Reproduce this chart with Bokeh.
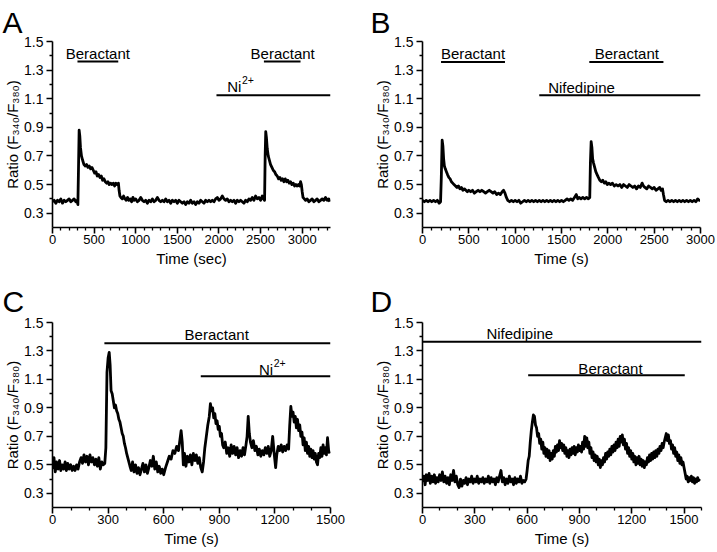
from bokeh.plotting import figure
from bokeh.models import Range1d, FixedTicker, PrintfTickFormatter, Label
from bokeh.layouts import column, row
from bokeh.embed import file_html
from bokeh.resources import INLINE

FONT = "Liberation Sans"

# ---------------- data ----------------
# Panel A: time (sec), ratio
a_points = [
    (0, .38), (20, .39), (40, .37), (60, .39), (80, .38), (100, .40), (120, .37), (140, .39),
    (160, .38), (180, .39), (200, .40), (220, .38), (240, .39), (260, .40), (280, .38), (295, .39),
    (305, .36), (312, .60), (320, .88), (328, .84), (336, .76), (348, .70), (362, .67), (378, .64),
    (394, .63), (410, .64), (426, .62), (442, .63), (458, .61), (474, .62), (490, .60), (506, .58),
    (522, .59), (538, .56), (554, .57), (570, .55), (586, .56), (602, .53), (618, .54), (634, .52),
    (650, .51), (666, .52), (682, .50), (698, .51), (714, .50), (730, .51), (746, .49), (762, .51),
    (778, .50), (792, .51), (800, .46), (810, .42), (822, .41), (838, .40), (854, .42), (870, .40),
    (886, .39), (902, .41), (918, .39), (934, .40), (950, .38), (966, .41), (982, .39), (1000, .40),
    (1020, .38), (1040, .39), (1060, .41), (1080, .39), (1100, .38), (1120, .39), (1140, .37),
    (1160, .39), (1180, .38), (1200, .40), (1220, .38), (1240, .39), (1260, .41), (1280, .39),
    (1300, .38), (1320, .39), (1340, .38), (1360, .40), (1380, .38), (1400, .39), (1420, .37),
    (1440, .39), (1460, .38), (1480, .39), (1500, .37), (1520, .39), (1540, .38), (1560, .37),
    (1580, .38), (1600, .36), (1620, .38), (1640, .37), (1660, .39), (1680, .37), (1700, .38),
    (1720, .36), (1740, .38), (1760, .37), (1780, .39), (1800, .38), (1820, .37), (1840, .39),
    (1860, .38), (1880, .39), (1900, .38), (1920, .39), (1940, .38), (1960, .40), (1980, .41),
    (2000, .39), (2020, .40), (2040, .42), (2060, .40), (2080, .39), (2100, .40), (2120, .38),
    (2140, .39), (2160, .38), (2180, .39), (2200, .37), (2220, .39), (2240, .38), (2260, .39),
    (2280, .38), (2300, .37), (2320, .39), (2340, .38), (2360, .40), (2380, .39), (2400, .41),
    (2420, .39), (2440, .42), (2460, .40), (2480, .41), (2500, .39), (2520, .42), (2535, .40),
    (2548, .39), (2555, .70), (2562, .87), (2570, .83), (2580, .75), (2592, .70), (2606, .67),
    (2620, .64), (2636, .62), (2652, .60), (2668, .59), (2684, .57), (2700, .56), (2716, .54),
    (2732, .55), (2748, .53), (2764, .54), (2780, .52), (2796, .54), (2812, .52), (2828, .53),
    (2844, .51), (2860, .52), (2876, .50), (2892, .51), (2908, .49), (2924, .50), (2940, .49),
    (2956, .50), (2970, .49), (2980, .52), (2990, .50), (3000, .45), (3010, .41), (3025, .40),
    (3040, .39), (3060, .40), (3080, .38), (3100, .39), (3120, .40), (3140, .38), (3160, .39),
    (3180, .40), (3200, .38), (3220, .39), (3240, .40), (3260, .39), (3280, .41), (3300, .39),
    (3320, .40), (3330, .38),
]
# Panel B: time (s), ratio
b_points = [
    (0, .39), (20, .38), (40, .39), (60, .38), (80, .39), (100, .38), (120, .39), (140, .38),
    (160, .39), (180, .37), (195, .38), (203, .55), (212, .81), (220, .77), (228, .68), (236, .63),
    (246, .61), (258, .59), (270, .57), (284, .55), (298, .54), (312, .52), (326, .51), (340, .50),
    (356, .49), (372, .48), (388, .49), (404, .47), (420, .48), (436, .46), (452, .47), (468, .46),
    (484, .45), (500, .46), (520, .45), (540, .46), (560, .44), (580, .45), (600, .46), (620, .45),
    (640, .46), (660, .45), (680, .44), (700, .45), (720, .46), (740, .45), (760, .44), (780, .45),
    (800, .43), (820, .44), (840, .43), (860, .45), (875, .46), (890, .44), (905, .41), (920, .39),
    (940, .38), (960, .39), (980, .38), (1000, .39), (1020, .38), (1040, .39), (1060, .37),
    (1080, .38), (1100, .39), (1120, .38), (1140, .39), (1160, .38), (1180, .39), (1200, .38),
    (1220, .39), (1240, .38), (1260, .39), (1280, .38), (1300, .39), (1320, .38), (1340, .39),
    (1360, .38), (1380, .39), (1400, .38), (1420, .39), (1440, .38), (1460, .39), (1480, .38),
    (1500, .39), (1520, .38), (1540, .39), (1560, .40), (1580, .39), (1600, .40), (1620, .39),
    (1640, .41), (1660, .43), (1675, .40), (1690, .41), (1710, .40), (1730, .41), (1750, .40),
    (1770, .41), (1790, .40), (1805, .41), (1812, .65), (1820, .80), (1828, .76), (1836, .68),
    (1846, .65), (1858, .62), (1870, .59), (1884, .57), (1898, .55), (1914, .53), (1930, .52),
    (1946, .53), (1962, .51), (1978, .52), (1994, .50), (2010, .51), (2030, .50), (2050, .51),
    (2070, .49), (2090, .50), (2110, .49), (2130, .50), (2150, .48), (2170, .50), (2190, .49),
    (2210, .48), (2230, .50), (2250, .49), (2270, .48), (2290, .49), (2310, .47), (2330, .49),
    (2350, .48), (2370, .51), (2385, .49), (2400, .48), (2420, .47), (2440, .49), (2460, .48),
    (2480, .47), (2500, .48), (2520, .46), (2540, .47), (2560, .48), (2575, .46), (2590, .47),
    (2600, .43), (2612, .39), (2630, .38), (2650, .39), (2670, .38), (2690, .39), (2710, .38),
    (2730, .39), (2750, .38), (2770, .39), (2790, .38), (2810, .39), (2830, .38), (2850, .39),
    (2870, .38), (2890, .39), (2910, .38), (2930, .39), (2950, .38), (2970, .40), (2985, .39),
    (2995, .39),
]
# Panel C: time (s), ratio
c_points = [
    (0, .47), (8, .55), (15, .45), (22, .52), (30, .47), (38, .53), (45, .46), (52, .50), (60, .47),
    (68, .52), (75, .46), (82, .51), (90, .47), (98, .50), (106, .46), (114, .49), (122, .46),
    (130, .50), (138, .47), (146, .52), (154, .55), (162, .51), (170, .57), (178, .52), (186, .56),
    (194, .50), (202, .57), (210, .52), (218, .55), (226, .50), (234, .54), (242, .49), (250, .55),
    (258, .47), (266, .52), (274, .50), (282, .51), (288, .62), (294, 1.15), (300, 1.25),
    (306, 1.29), (311, 1.20), (316, 1.02), (322, 1.00), (328, .95), (334, .90), (340, .92),
    (346, .88), (352, .86), (358, .82), (364, .80), (370, .76), (376, .72), (382, .70), (388, .65),
    (394, .62), (400, .58), (406, .55), (412, .52), (418, .49), (425, .46), (432, .52), (440, .45),
    (448, .50), (456, .44), (464, .48), (472, .43), (480, .47), (488, .51), (496, .45), (504, .50),
    (512, .44), (520, .48), (528, .53), (536, .49), (544, .56), (552, .47), (560, .52), (568, .45),
    (576, .49), (584, .44), (592, .47), (600, .43), (610, .48), (620, .52), (630, .56), (640, .54),
    (650, .60), (660, .58), (670, .63), (680, .60), (688, .68), (694, .74), (700, .66), (706, .50),
    (712, .58), (720, .49), (728, .56), (736, .52), (744, .57), (752, .50), (760, .58), (768, .53),
    (776, .57), (784, .51), (792, .55), (800, .48), (808, .45), (815, .52), (822, .62), (830, .70),
    (838, .78), (846, .84), (852, .93), (858, .88), (864, .90), (870, .83), (876, .86), (882, .79),
    (888, .81), (894, .75), (900, .77), (906, .70), (912, .72), (918, .64), (924, .62), (932, .66),
    (940, .58), (948, .62), (956, .56), (964, .64), (972, .58), (980, .63), (988, .57), (996, .62),
    (1004, .55), (1012, .60), (1020, .56), (1028, .62), (1036, .57), (1044, .64), (1050, .70),
    (1056, .84), (1062, .72), (1068, .66), (1076, .62), (1084, .67), (1092, .60), (1100, .63),
    (1108, .57), (1116, .61), (1124, .56), (1132, .60), (1140, .57), (1148, .62), (1156, .58),
    (1164, .63), (1172, .56), (1180, .60), (1188, .70), (1196, .58), (1204, .48), (1210, .57),
    (1218, .63), (1226, .60), (1234, .64), (1242, .59), (1250, .63), (1258, .60), (1266, .64),
    (1274, .61), (1280, .78), (1286, .91), (1292, .84), (1298, .87), (1304, .80), (1310, .84),
    (1316, .76), (1322, .82), (1328, .74), (1334, .78), (1340, .70), (1346, .73), (1352, .64),
    (1358, .69), (1364, .60), (1370, .66), (1376, .58), (1382, .63), (1388, .56), (1394, .61),
    (1400, .55), (1406, .60), (1412, .54), (1418, .58), (1424, .52), (1430, .50), (1436, .58),
    (1442, .55), (1448, .62), (1454, .56), (1460, .64), (1466, .58), (1472, .62), (1478, .57),
    (1484, .69), (1490, .60), (1496, .58),
]
# Panel D: time (s), ratio
d_points = [
    (0, .38), (8, .42), (15, .36), (22, .43), (30, .39), (38, .44), (45, .37), (52, .42), (60, .38),
    (68, .43), (75, .37), (82, .41), (90, .38), (98, .43), (106, .39), (114, .45), (122, .38),
    (130, .42), (138, .37), (146, .41), (154, .36), (162, .43), (170, .39), (178, .46), (186, .38),
    (194, .42), (202, .36), (210, .34), (218, .40), (226, .35), (234, .39), (242, .37), (250, .41),
    (258, .36), (266, .40), (274, .38), (282, .42), (290, .37), (298, .40), (306, .38), (314, .42),
    (322, .37), (330, .40), (338, .38), (346, .41), (354, .37), (362, .40), (370, .38), (378, .42),
    (386, .37), (394, .41), (402, .38), (410, .40), (418, .36), (426, .41), (434, .38), (442, .42),
    (450, .46), (458, .38), (466, .41), (474, .36), (482, .40), (490, .37), (498, .42), (506, .38),
    (514, .40), (522, .36), (530, .41), (538, .37), (546, .40), (554, .38), (562, .42), (570, .37),
    (578, .39), (586, .38), (594, .40), (600, .46), (606, .53), (612, .56), (618, .66), (624, .74),
    (630, .80), (636, .85), (642, .84), (648, .78), (654, .76), (660, .70), (666, .72), (672, .65),
    (678, .68), (684, .61), (690, .66), (696, .58), (702, .62), (708, .56), (714, .61), (720, .55),
    (726, .60), (732, .53), (738, .58), (744, .54), (750, .60), (756, .56), (762, .63), (768, .59),
    (774, .64), (780, .60), (786, .67), (792, .62), (798, .65), (804, .60), (810, .64), (816, .58),
    (822, .62), (828, .56), (834, .60), (840, .55), (846, .61), (852, .57), (858, .62), (864, .58),
    (870, .63), (876, .57), (882, .62), (888, .59), (894, .64), (900, .60), (906, .63), (912, .59),
    (918, .66), (924, .61), (930, .70), (936, .63), (942, .69), (948, .62), (954, .66), (960, .58),
    (966, .62), (972, .55), (978, .59), (984, .53), (990, .57), (996, .52), (1002, .56), (1008, .50),
    (1014, .54), (1020, .48), (1026, .53), (1032, .50), (1038, .55), (1044, .52), (1050, .58),
    (1056, .54), (1062, .59), (1068, .56), (1074, .61), (1080, .57), (1086, .63), (1092, .59),
    (1098, .64), (1104, .60), (1110, .66), (1116, .62), (1122, .68), (1128, .63), (1134, .70),
    (1140, .66), (1146, .71), (1152, .64), (1158, .68), (1164, .61), (1170, .65), (1176, .58),
    (1182, .62), (1188, .56), (1194, .60), (1200, .54), (1206, .58), (1212, .52), (1218, .56),
    (1224, .50), (1230, .55), (1236, .51), (1242, .56), (1248, .50), (1254, .54), (1260, .49),
    (1266, .53), (1272, .48), (1278, .52), (1284, .50), (1290, .55), (1296, .52), (1302, .57),
    (1308, .53), (1314, .58), (1320, .54), (1326, .59), (1332, .55), (1338, .60), (1344, .56),
    (1350, .61), (1356, .58), (1362, .63), (1368, .60), (1374, .65), (1380, .62), (1386, .66),
    (1392, .69), (1398, .72), (1404, .67), (1410, .71), (1416, .65), (1422, .67), (1428, .61),
    (1434, .64), (1440, .58), (1446, .62), (1452, .56), (1458, .59), (1464, .53), (1470, .57),
    (1476, .51), (1482, .55), (1488, .50), (1494, .52), (1500, .48), (1506, .44), (1512, .40),
    (1518, .42), (1524, .38), (1530, .41), (1536, .39), (1542, .42), (1548, .38), (1554, .41),
    (1560, .37), (1566, .40), (1572, .38), (1578, .41), (1584, .39), (1590, .40),
]
a_time, a_ratio = [t for t, v in a_points], [v for t, v in a_points]
b_time, b_ratio = [t for t, v in b_points], [v for t, v in b_points]
c_time, c_ratio = [t for t, v in c_points], [v for t, v in c_points]
d_time, d_ratio = [t for t, v in d_points], [v for t, v in d_points]

# treatment bars: start, end, level
a_bar_start = [300, 2540, 1970]
a_bar_end = [790, 2980, 3340]
a_bar_y = [1.36, 1.36, 1.124]
b_bar_start = [200, 1800, 1260]
b_bar_end = [890, 2600, 3000]
b_bar_y = [1.357, 1.357, 1.124]
c_bar_start = [280, 800]
c_bar_end = [1500, 1500]
c_bar_y = [1.355, 1.122]
d_bar_start = [0, 606]
d_bar_end = [1600, 1504]
d_bar_y = [1.364, 1.13]

# axis ticks
y_major = [0.3, 0.5, 0.7, 0.9, 1.1, 1.3, 1.5]
y_minor = [0.4, 0.6, 0.8, 1.0, 1.2, 1.4]
a_xmajor = [0, 500, 1000, 1500, 2000, 2500, 3000]
b_xmajor = [0, 500, 1000, 1500, 2000, 2500, 3000]
c_xmajor = [0, 300, 600, 900, 1200, 1500]
d_xmajor = [0, 300, 600, 900, 1200, 1500]

YLABEL = "Ratio (F\u2083\u2084\u2080/F\u2083\u2088\u2080)"


def panel(width, height, bl, br, bt, bb, xmax, xmajor, xlabel, letter, loff, lstand):
    p = figure(width=width, height=height, output_backend="svg", toolbar_location=None,
               x_range=Range1d(0, xmax), y_range=Range1d(0.2, 1.5),
               min_border_left=bl, min_border_right=br, min_border_top=bt, min_border_bottom=bb)
    p.outline_line_color = None
    p.xgrid.visible = False
    p.ygrid.visible = False
    xminor = [m for m in range(100, xmax + 1, 100) if m not in xmajor]
    p.xaxis.ticker = FixedTicker(ticks=xmajor, minor_ticks=xminor)
    p.yaxis.ticker = FixedTicker(ticks=y_major, minor_ticks=y_minor)
    p.xaxis.formatter = PrintfTickFormatter(format="%d")
    p.yaxis.formatter = PrintfTickFormatter(format="%.1f")
    for ax in (p.xaxis[0], p.yaxis[0]):
        ax.axis_line_width = 1.6
        ax.axis_line_color = "black"
        ax.major_tick_line_width = 1.6
        ax.major_tick_line_color = "black"
        ax.minor_tick_line_width = 1.3
        ax.minor_tick_line_color = "black"
        ax.major_tick_in = 0
        ax.major_tick_out = 6
        ax.minor_tick_in = 0
        ax.minor_tick_out = 3
        ax.major_label_text_font = FONT
        ax.major_label_text_color = "black"
        ax.axis_label_text_font = FONT
        ax.axis_label_text_font_size = "15px"
        ax.axis_label_text_font_style = "normal"
        ax.axis_label_text_color = "black"
    p.xaxis.major_label_text_font_size = "13px"
    p.yaxis.major_label_text_font_size = "14px"
    p.xaxis.major_label_standoff = 1
    p.yaxis.major_label_standoff = 3
    p.xaxis.axis_label = xlabel
    p.xaxis.axis_label_standoff = 3
    p.yaxis.axis_label = YLABEL
    p.yaxis.axis_label_standoff = 0
    p.title.text = letter
    p.title.text_font = FONT
    p.title.text_font_size = "30px"
    p.title.text_font_style = "normal"
    p.title.text_color = "black"
    p.title.align = "left"
    p.title.offset = loff
    p.title.standoff = lstand
    return p


def txt(p, x, y, s, align="center", size=15, xo=0, yo=0):
    p.add_layout(Label(x=x, y=y, x_offset=xo, y_offset=yo, text=s, text_align=align,
                       text_baseline="alphabetic", text_font=FONT, text_font_size=f"{size}px",
                       text_color="black"))


def ni(p, x, y):
    txt(p, x, y, "Ni", align="left")
    txt(p, x, y, "2+", align="left", size=10.5, xo=14.7, yo=6.5)


# ---------------- Panel A ----------------
pa = panel(358, 276, 52, 28, 41, 49, 3340, a_xmajor, "Time (sec)", "A", -50, 5)
pa.line(a_time, a_ratio, line_width=2.8, color="black", line_join="round")
pa.segment(x0=a_bar_start, y0=a_bar_y, x1=a_bar_end, y1=a_bar_y, line_width=2, color="black")
txt(pa, 545, 1.416, "Beractant")
txt(pa, 2765, 1.416, "Beractant")
ni(pa, 2100, 1.182)

# ---------------- Panel B ----------------
pb = panel(358, 276, 64, 16, 41, 49, 3000, b_xmajor, "Time (s)", "B", -52, 5)
pb.line(b_time, b_ratio, line_width=2.8, color="black", line_join="round")
pb.segment(x0=b_bar_start, y0=b_bar_y, x1=b_bar_end, y1=b_bar_y, line_width=2, color="black")
txt(pb, 545, 1.416, "Beractant")
txt(pb, 2205, 1.416, "Beractant")
txt(pb, 1716, 1.177, "Nifedipine")

# ---------------- Panel C ----------------
pc = panel(358, 275, 52, 28, 46, 44, 1500, c_xmajor, "Time (s)", "C", -50, 10)
pc.line(c_time, c_ratio, line_width=2.8, color="black", line_join="round")
pc.segment(x0=c_bar_start, y0=c_bar_y, x1=c_bar_end, y1=c_bar_y, line_width=2, color="black")
txt(pc, 886, 1.414, "Beractant")
ni(pc, 1114, 1.169)

# ---------------- Panel D ----------------
pd = panel(358, 275, 64, 15, 46, 44, 1600, d_xmajor, "Time (s)", "D", -52, 10)
pd.line(d_time, d_ratio, line_width=2.8, color="black", line_join="round")
pd.segment(x0=d_bar_start, y0=d_bar_y, x1=d_bar_end, y1=d_bar_y, line_width=2, color="black")
txt(pd, 558, 1.423, "Nifedipine")
txt(pd, 1078, 1.18, "Beractant")

layout = column(row(pa, pb), row(pc, pd))
open("out.html", "w").write(file_html(layout, INLINE))
